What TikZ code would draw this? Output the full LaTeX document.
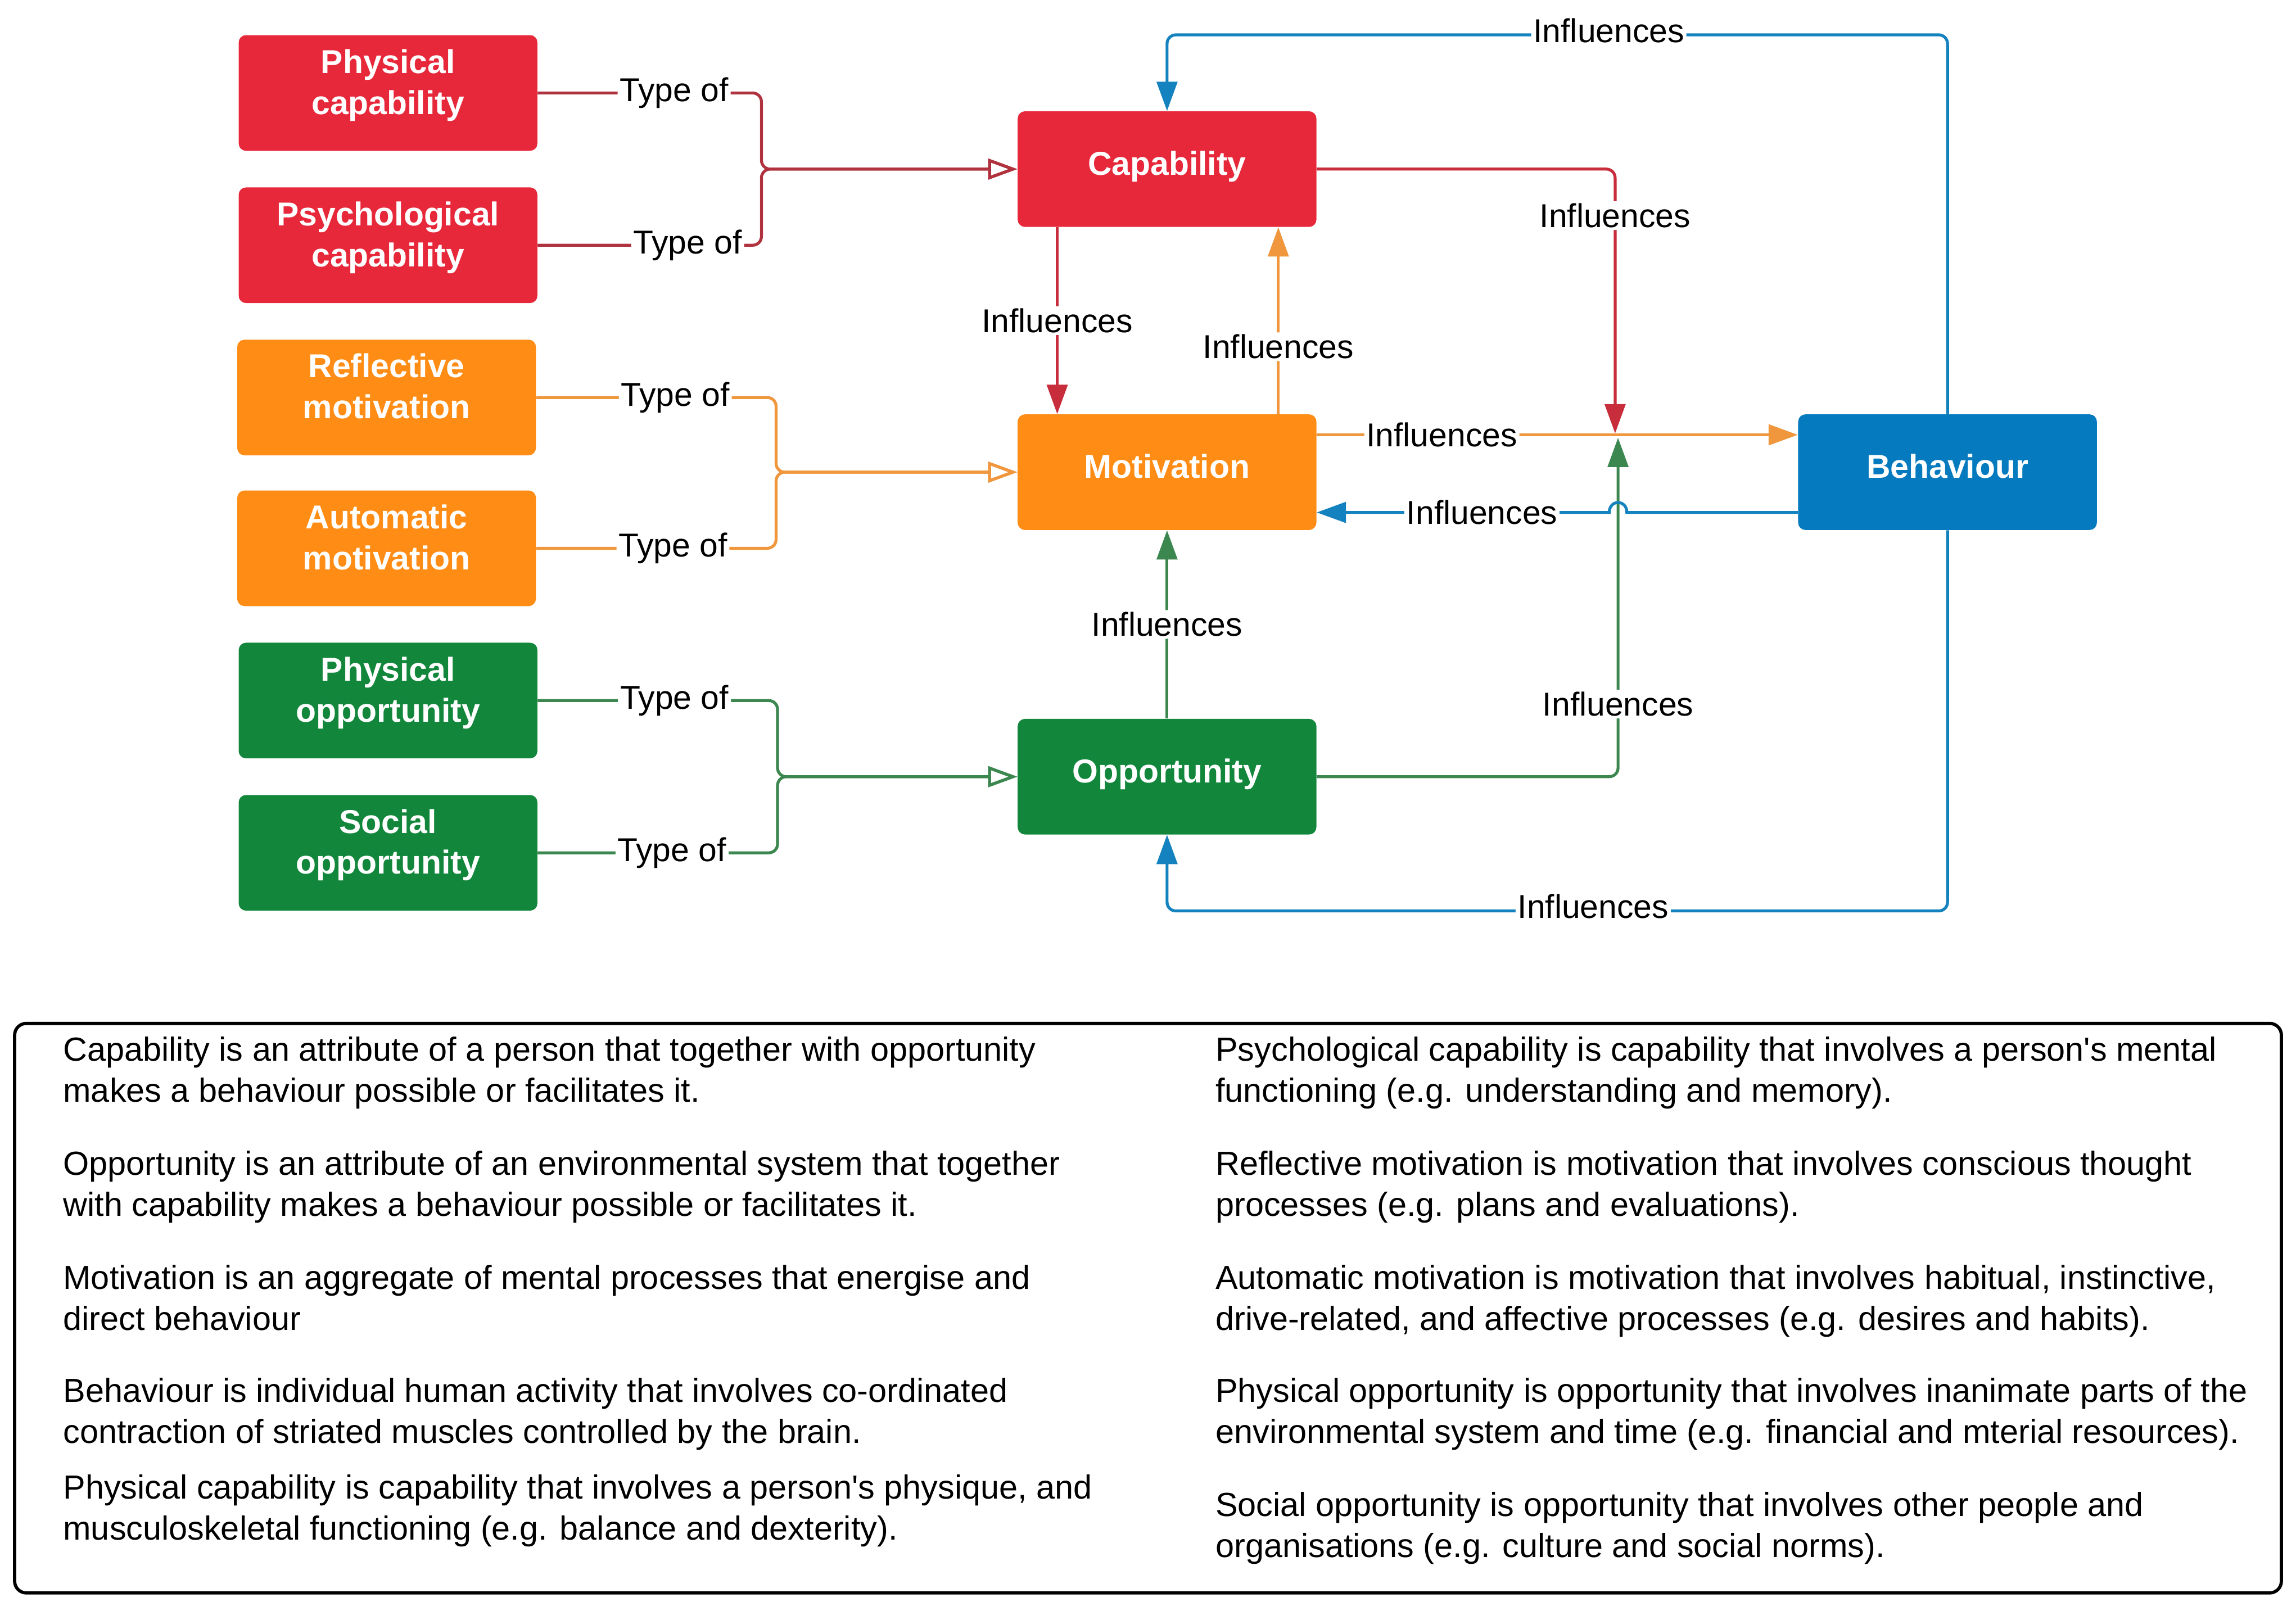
\documentclass[tikz,border=0pt]{standalone}
\usepackage{fontspec}
\setmainfont{Liberation Sans}
\usetikzlibrary{arrows.meta}

\definecolor{capred}{RGB}{230,40,58}
\definecolor{motorange}{RGB}{255,140,20}
\definecolor{oppgreen}{RGB}{18,135,60}
\definecolor{behblue}{RGB}{5,122,190}
\definecolor{capline}{RGB}{200,45,60}
\definecolor{typered}{RGB}{175,50,62}
\definecolor{motline}{RGB}{240,150,60}
\definecolor{oppline}{RGB}{60,135,80}
\definecolor{behline}{RGB}{20,130,190}

\begin{document}
\begin{tikzpicture}[x=1pt, y=-1pt,
    box/.style={rectangle, rounded corners=5pt, minimum width=204pt, minimum height=79pt,
        inner sep=0pt, align=center, text=white, font=\fontsize{22.6}{28}\selectfont\bfseries,
        text height=29pt, text depth=0pt},
    mainbox/.style={box, text height=8pt, text depth=0pt},
    lbl/.style={fill=white, inner sep=1.5pt, text=black, font=\fontsize{22.6}{27}\selectfont},
    typeof/.style={line width=2pt, rounded corners=6pt,
        -{Triangle[open, length=20pt, width=14pt, line width=2pt]}},
    infl/.style={line width=2pt, rounded corners=6pt, -{Triangle[length=20pt, width=14pt]}},
    defn/.style={anchor=north west, align=left, inner sep=0pt, font=\fontsize{22.8}{28}\selectfont}]
    \useasboundingbox (0,0) rectangle (1568,1100);

    % types of each component
    \node[box, fill=capred] (physcap) at (265,63.5) {Physical\\capability};
    \node[box, fill=capred] (psycap) at (265,167.5) {Psychological\\capability};
    \node[box, fill=motorange] (reflmot) at (264,271.5) {Reflective\\motivation};
    \node[box, fill=motorange] (automot) at (264,374.5) {Automatic\\motivation};
    \node[box, fill=oppgreen] (physopp) at (265,478.5) {Physical\\opportunity};
    \node[box, fill=oppgreen] (socopp) at (265,582.5) {Social\\opportunity};

    % components
    \node[mainbox, fill=capred] (cap) at (797,115.5) {Capability};
    \node[mainbox, fill=motorange] (mot) at (797,322.5) {Motivation};
    \node[mainbox, fill=oppgreen] (opp) at (797,530.5) {Opportunity};
    \node[mainbox, fill=behblue] (beh) at (1330,322.5) {Behaviour};

    \coordinate (capjoin) at (520,115.5);
    \coordinate (motjoin) at (530,322.5);
    \coordinate (oppjoin) at (531,530.5);
    \coordinate (redend) at (1103,296);
    \coordinate (greenend) at (1105,299);
    \coordinate (hopr) at (1111,350);
    \coordinate (hopl) at (1099,350);

    % type of
    \draw[typeof, typered] (physcap.east) -| node[lbl, pos=0.305] (t1) {Type of} (capjoin) -- (cap.west);
    \draw[typeof, typered] (psycap.east) -| node[lbl, pos=0.335] (t2) {Type of} (capjoin) -- (cap.west);
    \draw[typeof, motline] (reflmot.east) -| node[lbl, pos=0.29] (t3) {Type of} (motjoin) -- (mot.west);
    \draw[typeof, motline] (automot.east) -| node[lbl, pos=0.285] (t4) {Type of} (motjoin) -- (mot.west);
    \draw[typeof, oppline] (physopp.east) -| node[lbl, pos=0.285] (t5) {Type of} (oppjoin) -- (opp.west);
    \draw[typeof, oppline] (socopp.east) -| node[lbl, pos=0.28] (t6) {Type of} (oppjoin) -- (opp.west);

    % influences
    \draw[infl, motline] ([yshift=25.5pt]mot.east) -- node[lbl, pos=0.26] (i4) {Influences} ([yshift=25.5pt]beh.west);
    \draw[infl, capline] ([xshift=-75pt]cap.south) -- node[lbl] (i1) {Influences} ([xshift=-75pt]mot.north);
    \draw[infl, motline] ([xshift=76pt]mot.north) -- node[lbl, pos=0.36] (i2) {Influences} ([xshift=76pt]cap.south);
    \draw[infl, capline] (cap.east) -| node[lbl, pos=0.588] (i3) {Influences} (redend);
    \draw[infl, oppline] (opp.north) -- node[lbl] (i6) {Influences} (mot.south);
    \draw[infl, oppline] (opp.east) -| node[lbl, pos=0.607] (i7) {Influences} (greenend);
    \draw[infl, behline, sharp corners] ([yshift=-27.5pt]beh.west) -- (hopr)
        .. controls ([yshift=9pt]hopr) and ([yshift=9pt]hopl) .. (hopl)
        -- node[lbl, pos=0.435] (i5) {Influences} ([yshift=-27.5pt]mot.east);
    \draw[infl, behline] (beh.north) |- node[lbl, pos=0.717, yshift=3pt] (i8) {Influences} ([yshift=52pt]cap.north) -- (cap.north);
    \draw[infl, behline] (beh.south) |- node[lbl, pos=0.727, yshift=3pt] (i9) {Influences} ([yshift=-52pt]opp.south) -- (opp.south);

    % definitions
    \draw[line width=2.2pt, rounded corners=8pt] (10,699) rectangle (1558,1088);
    \node[defn] (dcap) at (43,708) {Capability is an attribute of a person that together with opportunity\\makes a behaviour possible or facilitates it.};
    \node[defn] (dopp) at (43,786) {Opportunity is an attribute of an environmental system that together\\with capability makes a behaviour possible or facilitates it.};
    \node[defn] (dmot) at (43,864) {Motivation is an aggregate of mental processes that energise and\\direct behaviour};
    \node[defn] (dbeh) at (43,941) {Behaviour is individual human activity that involves co-ordinated\\contraction of striated muscles controlled by the brain.};
    \node[defn] (dphyscap) at (43,1007) {Physical capability is capability that involves a person\textquotesingle s physique, and\\musculoskeletal functioning (e.g. balance and dexterity).};
    \node[defn] (dpsycap) at (830,708) {Psychological capability is capability that involves a person\textquotesingle s mental\\functioning (e.g. understanding and memory).};
    \node[defn] (dreflmot) at (830,786) {Reflective motivation is motivation that involves conscious thought\\processes (e.g. plans and evaluations).};
    \node[defn] (dautomot) at (830,864) {Automatic motivation is motivation that involves habitual, instinctive,\\drive-related, and affective processes (e.g. desires and habits).};
    \node[defn] (dphysopp) at (830,941) {Physical opportunity is opportunity that involves inanimate parts of the\\environmental system and time (e.g. financial and mterial resources).};
    \node[defn] (dsocopp) at (830,1019) {Social opportunity is opportunity that involves other people and\\organisations (e.g. culture and social norms).};
\end{tikzpicture}
\end{document}
